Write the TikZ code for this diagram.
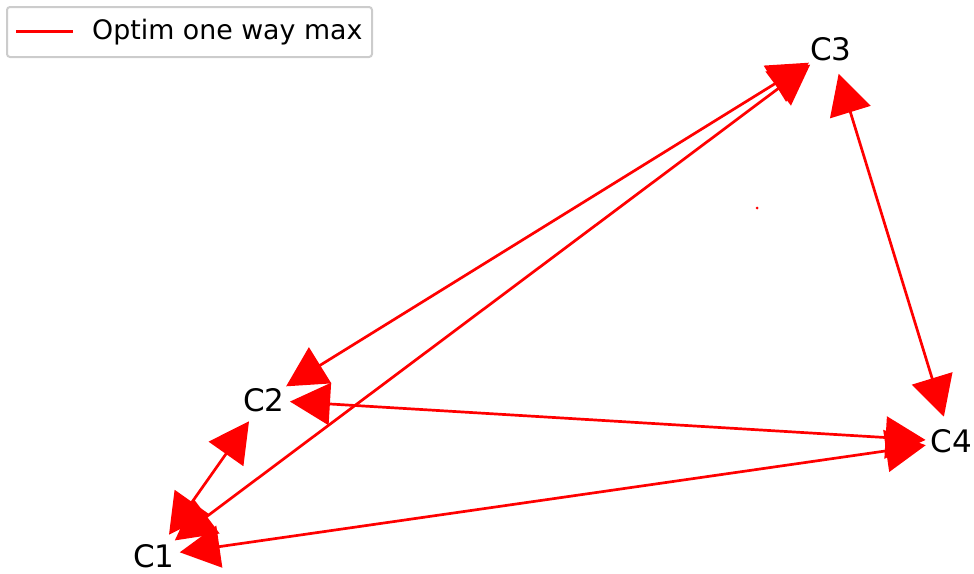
\documentclass[tikz,border=0pt]{standalone}
\usepackage{fontspec}
\setmainfont{DejaVu Sans}
\usetikzlibrary{arrows.meta}
\begin{document}
\begin{tikzpicture}[x=1pt,y=-1pt,
  lbl/.style={font=\fontsize{31}{31}\selectfont, inner sep=0pt},
  edge/.style={draw=red, line width=2.7pt, {Triangle[length=40pt,width=42pt]}-{Triangle[length=40pt,width=42pt]}, shorten <=26pt, shorten >=26pt}]
\useasboundingbox (0,0) rectangle (974,573);
\coordinate (P1) at (154,556);
\coordinate (P2) at (264,400);
\coordinate (P3) at (831,49);
\coordinate (P4) at (951.5,441.5);
\node[lbl] (C1) at (P1) {C1};
\node[lbl] (C2) at (P2) {C2};
\node[lbl] (C3) at (P3) {C3};
\node[lbl] (C4) at (P4) {C4};
\draw[edge, red] (P1) -- (P2);
\draw[edge, red] (P1) -- (P3);
\draw[edge, red] (P1) -- (P4);
\draw[edge, red] (P2) -- (P3);
\draw[edge, red] (P2) -- (P4);
\draw[edge, red] (P3) -- (P4);
\fill[red] (757,208) circle (1.5);
% legend
\node[draw={rgb,255:red,204;green,204;blue,204}, line width=2pt, rounded corners=3pt, fill=white, minimum width=365pt, minimum height=50pt, inner sep=0pt] (legend) at (189.5,32) {};
\coordinate (L1) at (16,31.5);
\coordinate (L2) at (73,31.5);
\draw[red, line width=2.7pt] (L1) -- (L2);
\node[anchor=west, inner sep=0pt, font=\fontsize{26.8}{26.8}\selectfont] (ltext) at (92,32) {Optim one way max};
\end{tikzpicture}
\end{document}
